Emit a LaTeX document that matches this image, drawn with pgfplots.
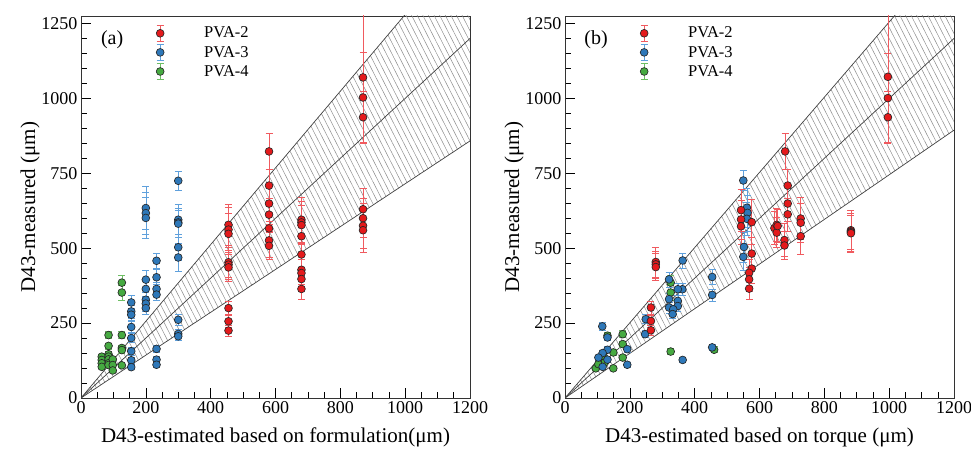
\documentclass[border=0pt]{standalone}
\usepackage{fontspec}
\setmainfont{Liberation Serif}
\usepackage{pgfplots}
\pgfplotsset{compat=1.18}
\usepackage{pgfplotstable}
\usetikzlibrary{patterns.meta}

\definecolor{pred}{RGB}{228,26,28}
\definecolor{pblue}{RGB}{46,120,185}
\definecolor{pgreen}{RGB}{70,170,65}
\definecolor{ered}{RGB}{240,90,95}
\definecolor{eblue}{RGB}{95,160,220}
\definecolor{egreen}{RGB}{110,190,100}

% ---------- data: panel (a) ----------
\pgfplotstableread{
x y e
455 578 70
455 562 75
455 548 70
455 453 50
455 445 48
455 436 45
455 300 22
455 256 20
455 225 18
580 823 60
580 709 55
580 649 58
580 612 55
580 566 55
580 526 55
580 508 46
680 595 75
680 586 70
680 577 65
680 540 60
680 479 55
680 428 50
680 417 45
680 397 40
680 364 35
870 1070 220
870 1003 150
870 937 85
870 630 70
870 600 65
870 575 75
870 560 75
}\redA
\pgfplotstableread{
x y e
155 319 25
155 289 22
155 278 20
155 237 18
155 200 15
155 156 12
155 126 10
155 103 8
200 634 72
200 617 70
200 601 68
200 395 30
200 364 28
200 328 25
200 315 24
200 300 22
233 458 26
233 403 25
233 364 22
233 345 20
233 164 12
233 128 10
233 111 8
300 725 33
300 595 50
300 586 48
300 582 45
300 503 45
300 469 46
300 261 20
300 214 15
300 206 15
}\blueA
\pgfplotstableread{
x y e
64 138 8
64 127 8
64 116 7
64 104 6
85 210 12
85 174 10
85 146 9
85 138 8
85 129 8
85 116 7
85 110 7
98 129 8
98 110 7
98 92 6
126 385 25
126 352 25
126 210 12
126 167 10
126 160 10
126 109 7
}\greenA
% ---------- data: panel (b) ----------
\pgfplotstableread{
x y e
996 1072 220
996 1001 150
996 937 85
882 560 65
882 556 70
882 553 65
882 550 60
727 599 70
727 585 65
727 540 60
679 823 60
687 709 55
687 649 58
687 613 55
677 527 55
677 509 46
646 567 55
653 578 55
653 552 50
656 574 55
543 627 70
543 596 65
543 573 60
576 587 75
576 482 55
576 432 50
568 418 45
568 396 40
568 365 35
265 302 22
265 257 20
265 226 18
280 454 50
280 446 45
280 437 45
}\redB
\pgfplotstableread{
x y e
550 726 33
561 635 65
563 618 60
561 598 55
552 504 50
550 471 45
363 459 25
362 363 20
348 363 20
454 404 25
454 344 20
321 396 25
321 330 20
321 302 18
348 324 18
348 307 16
334 296 15
332 280 15
363 127 8
454 169 10
249 263 15
247 213 12
115 239 12
131 202 10
131 161 10
116 150 8
131 128 8
116 104 6
192 163 10
192 111 7
103 135 8
}\blueB
\pgfplotstableread{
x y e
326 385 25
326 352 25
178 213 12
178 180 10
178 135 8
131 208 12
149 152 9
149 99 6
95 99 6
108 130 8
118 141 8
123 119 7
103 113 7
326 155 10
460 161 10
}\greenB

\pgfplotsset{
  panel/.style={
    scale only axis, width=389pt, height=382pt,
    xmin=0, xmax=1200, ymin=0, ymax=1275,
    xtick={0,200,...,1200}, ytick={0,250,...,1250},
    minor x tick num=3, minor y tick num=4,
    tick align=inside, xtick pos=lower, ytick pos=left,
    major tick length=10pt, minor tick length=6pt,
    every tick/.style={black, line width=0.6pt},
    axis line style={black!80, line width=0.8pt},
    tick label style={font=\fontsize{18}{20}\selectfont},
    label style={font=\fontsize{21}{24}\selectfont},
    /pgf/number format/assume math mode=true,
    /pgf/number format/1000 sep={},
    xlabel style={at={(axis description cs:0.5,-0.102)}, anchor=center},
    ylabel style={at={(axis description cs:-0.131,0.5)}, anchor=center},
    legend style={at={(axis description cs:0.193,0.977)}, anchor=north west,
      draw=none, fill=none, font=\fontsize{16.5}{18}\selectfont,
      inner sep=0pt, row sep=2.5pt,
      /tikz/every odd column/.append style={column sep=38pt}},
    legend cell align=left,
    reverse legend,
  },
  wedge/.style={draw=none, forget plot,
    pattern={Lines[angle=-63, distance=5pt, line width=0.5pt]}, pattern color=black!45},
  bound/.style={black!75, line width=0.7pt, forget plot},
  pts/.style n args={2}{only marks, mark=*, mark size=3.9pt,
    mark options={fill=#1, draw=black!85, line width=0.65pt},
    error bars/y dir=both, error bars/y explicit,
    error bars/error bar style={#2, line width=0.6pt},
    error bars/error mark options={rotate=90, #2, mark size=3.5pt, line width=0.6pt},
    legend image code/.code={
      \draw[#2, line width=0.6pt] (0pt,-8pt) -- (0pt,8pt)
        (-3.5pt,8pt) -- (3.5pt,8pt) (-3.5pt,-8pt) -- (3.5pt,-8pt);
      \draw[##1] plot coordinates {(0pt,0pt)};
    },
  },
}

\begin{document}
\begin{tikzpicture}[x=1pt,y=1pt]
\useasboundingbox (0,0) rectangle (971,452);
% ---------------- panel (a) ----------------
\begin{axis}[panel, at={(81pt,54pt)}, anchor=south west,
  xlabel={D43-estimated based on formulation(μm)},
  ylabel={D43-measured (μm)}]
\addplot[wedge] coordinates {(0,0) (1200,1536) (1200,858)} -- cycle;
\addplot[bound] coordinates {(0,0) (1200,1536)};
\addplot[bound] coordinates {(0,0) (1200,1200)};
\addplot[bound] coordinates {(0,0) (1200,858)};
\addplot[pts={pgreen}{egreen}] table[x=x, y=y, y error=e] {\greenA};
\addlegendentry{PVA-4}
\addplot[pts={pblue}{eblue}] table[x=x, y=y, y error=e] {\blueA};
\addlegendentry{PVA-3}
\addplot[pts={pred}{ered}] table[x=x, y=y, y error=e] {\redA};
\addlegendentry{PVA-2}
\node[font=\fontsize{20}{22}\selectfont] at (rel axis cs:0.08,0.937) {(a)};
\end{axis}
% ---------------- panel (b) ----------------
\begin{axis}[panel, at={(565pt,54pt)}, anchor=south west,
  xlabel={D43-estimated based on torque (μm)},
  ylabel={D43-measured (μm)}]
\addplot[wedge] coordinates {(0,0) (1200,1506) (1200,894)} -- cycle;
\addplot[bound] coordinates {(0,0) (1200,1506)};
\addplot[bound] coordinates {(0,0) (1200,1200)};
\addplot[bound] coordinates {(0,0) (1200,894)};
\addplot[pts={pgreen}{egreen}] table[x=x, y=y, y error=e] {\greenB};
\addlegendentry{PVA-4}
\addplot[pts={pblue}{eblue}] table[x=x, y=y, y error=e] {\blueB};
\addlegendentry{PVA-3}
\addplot[pts={pred}{ered}] table[x=x, y=y, y error=e] {\redB};
\addlegendentry{PVA-2}
\node[font=\fontsize{20}{22}\selectfont] at (rel axis cs:0.08,0.937) {(b)};
\end{axis}
\end{tikzpicture}
\end{document}
